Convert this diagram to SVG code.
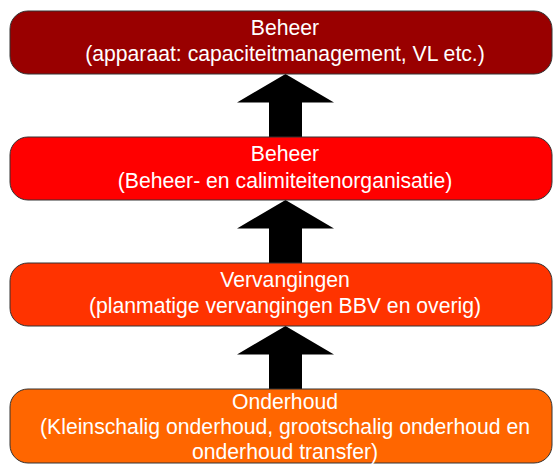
<svg xmlns="http://www.w3.org/2000/svg" width="553" height="464" viewBox="0 0 553 464">
<style>
.box{stroke:#333333;stroke-width:1}
.t{font-family:"Liberation Sans",Arial,sans-serif;font-size:21.2px;fill:#ffffff;text-anchor:middle}
.arr{fill:#000000}
</style>
<rect width="553" height="464" fill="#ffffff"/>
<g id="connectors">
<path class="arr" d="M285.5,74 L334,102.5 L302,102.5 L302,137 L269,137 L269,102.5 L237,102.5 Z"/>
<path class="arr" d="M285.5,200 L334,228.5 L302,228.5 L302,263 L269,263 L269,228.5 L237,228.5 Z"/>
<path class="arr" d="M285.5,326 L334,354.5 L302,354.5 L302,389 L269,389 L269,354.5 L237,354.5 Z"/>
</g>
<g id="beheer-apparaat">
<rect class="box" x="10" y="11" width="542" height="63" rx="18" fill="#990000"/>
<text class="t" x="285" y="35">Beheer</text>
<text class="t" x="285" y="61">(apparaat: capaciteitmanagement, VL etc.)</text>
</g>
<g id="beheer-organisatie">
<rect class="box" x="10" y="137" width="542" height="63" rx="18" fill="#ff0000"/>
<text class="t" x="285" y="161">Beheer</text>
<text class="t" x="285" y="188">(Beheer- en calimiteitenorganisatie)</text>
</g>
<g id="vervangingen">
<rect class="box" x="10" y="263" width="542" height="63" rx="18" fill="#ff3300"/>
<text class="t" x="285" y="287">Vervangingen</text>
<text class="t" x="285" y="313">(planmatige vervangingen BBV en overig)</text>
</g>
<g id="onderhoud">
<rect class="box" x="10" y="389" width="542" height="74" rx="18" fill="#ff6600"/>
<text class="t" x="285" y="409">Onderhoud</text>
<text class="t" x="285" y="434">(Kleinschalig onderhoud, grootschalig onderhoud en</text>
<text class="t" x="285" y="459">onderhoud transfer)</text>
</g>
</svg>
